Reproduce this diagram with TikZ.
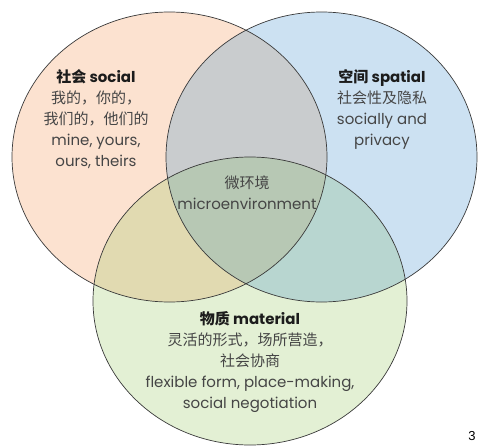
\documentclass[tikz,border=0pt]{standalone}
\usepackage{fontspec}
\setmainfont{Poppins}
\newfontfamily\zhfont{Noto Sans CJK SC}
\newfontfamily\numfont{Liberation Sans}
\definecolor{socialfill}{HTML}{FCE2D0}
\definecolor{spatialfill}{HTML}{CCE1F2}
\definecolor{materialfill}{HTML}{E3F0D4}
\definecolor{socspafill}{HTML}{C9CCCE}
\definecolor{socmatfill}{HTML}{E1DAB1}
\definecolor{spamatfill}{HTML}{B8D6D0}
\definecolor{corefill}{HTML}{B7C8B4}
\definecolor{rim}{HTML}{3A3A3A}
\definecolor{bodytext}{HTML}{454545}
\definecolor{headtext}{HTML}{1C1C1C}
\def\socialpath{(169.5,157) ellipse [x radius=157.5pt, y radius=145pt]}
\def\spatialpath{(321.5,157) ellipse [x radius=155.5pt, y radius=145pt]}
\def\materialpath{(250,301) ellipse [x radius=157pt, y radius=144pt]}
\tikzset{
  rimline/.style={draw=rim, line width=0.7pt},
  label/.style={align=center, text=bodytext, inner sep=0pt,
    font=\fontsize{15}{21}\selectfont},
}
\newcommand{\headline}[2]{{\color{headtext}\bfseries{\zhfont\bfseries #1} #2}}
\begin{document}
\begin{tikzpicture}[x=1pt,y=-1pt]
\useasboundingbox (0,0) rectangle (479,447);
% single-set fills
\fill[socialfill] \socialpath;
\fill[spatialfill] \spatialpath;
\fill[materialfill] \materialpath;
% pairwise overlaps
\begin{scope}
  \clip \socialpath;
  \fill[socspafill] \spatialpath;
  \fill[socmatfill] \materialpath;
\end{scope}
\begin{scope}
  \clip \spatialpath;
  \fill[spamatfill] \materialpath;
\end{scope}
% triple overlap
\begin{scope}
  \clip \socialpath;
  \clip \spatialpath;
  \fill[corefill] \materialpath;
\end{scope}
% outlines
\draw[rimline] \socialpath;
\draw[rimline] \spatialpath;
\draw[rimline] \materialpath;
% texts
\node[label] (social) at (96,119.5) {\headline{社会}{social}\\
  {\zhfont 我的，你的，}\\
  {\zhfont 我们的，他们的}\\
  mine, yours,\\
  ours, theirs};
\node[label] (spatial) at (382,109) {\headline{空间}{spatial}\\
  {\zhfont 社会性及隐私}\\
  socially and\\
  privacy};
\node[label] (micro) at (247,192.5) {{\zhfont 微环境}\\
  microenvironment};
\node[label] (material) at (250,362) {\headline{物质}{material}\\
  {\zhfont 灵活的形式，场所营造，}\\
  {\zhfont 社会协商}\\
  flexible form, place-making,\\
  social negotiation};
\node[font=\numfont\fontsize{13}{13}\selectfont, text=black, inner sep=0pt] (pagenum) at (472,436) {3};
\end{tikzpicture}
\end{document}
